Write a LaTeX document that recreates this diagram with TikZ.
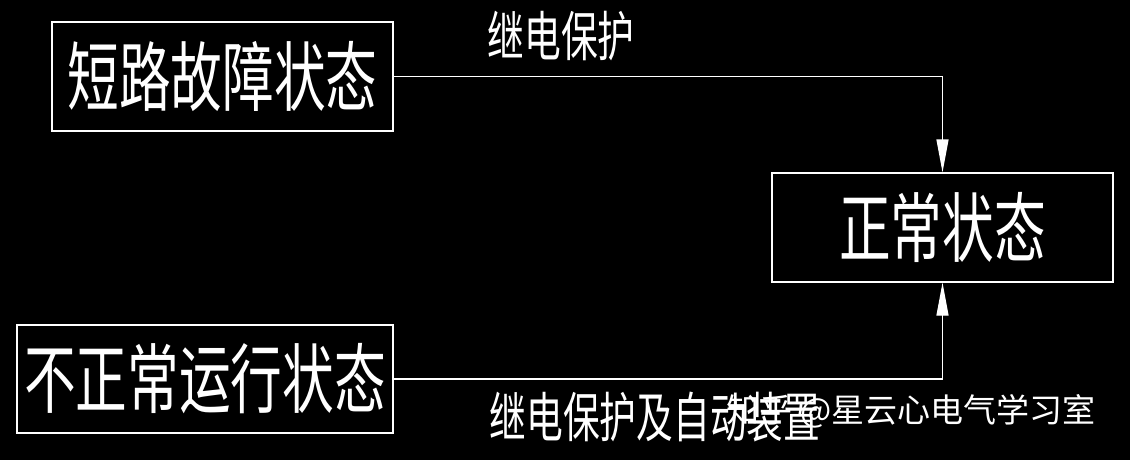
\documentclass[tikz,border=0pt]{standalone}
\usepackage{fontspec}
\newfontfamily\cadfont[FakeStretch=0.68]{Noto Sans CJK SC}
\newfontfamily\markfont{Noto Sans CJK SC}
\usetikzlibrary{arrows.meta}

\begin{document}
\begin{tikzpicture}[x=1pt,y=-1pt,line width=1.2pt,white,>={Triangle[length=33pt,width=12pt]},
  statebox/.style={draw,inner sep=0,minimum width=341,minimum height=109,font=\cadfont\fontsize{76}{76}\selectfont},
  arrowlabel/.style={inner sep=0,font=\cadfont\fontsize{54}{54}\selectfont}]

  \fill[black] (0,0) rectangle (1130,460);
  \useasboundingbox (0,0) rectangle (1130,460);

  \node [statebox] (fault) at (222.5, 76.5) {短路故障状态};
  \node [statebox] (normal) at (942.5, 227.5) {正常状态};
  \node [statebox, minimum width=376, minimum height=108] (abnormal) at (205, 379) {不正常运行状态};

  \draw[->] (fault.east) -| (normal.north);
  \draw[->] (abnormal.east) -| (normal.south);

  \node [arrowlabel] (relay) at (561, 36) {继电保护};
  \node [arrowlabel] (relayauto) at (655, 417) {继电保护及自动装置};

% watermark
  \node [inner sep=0,font=\markfont\fontsize{33}{33}\selectfont] (mark) at (911, 411) {知乎 @星云心电气学习室};
\end{tikzpicture}
\end{document}
